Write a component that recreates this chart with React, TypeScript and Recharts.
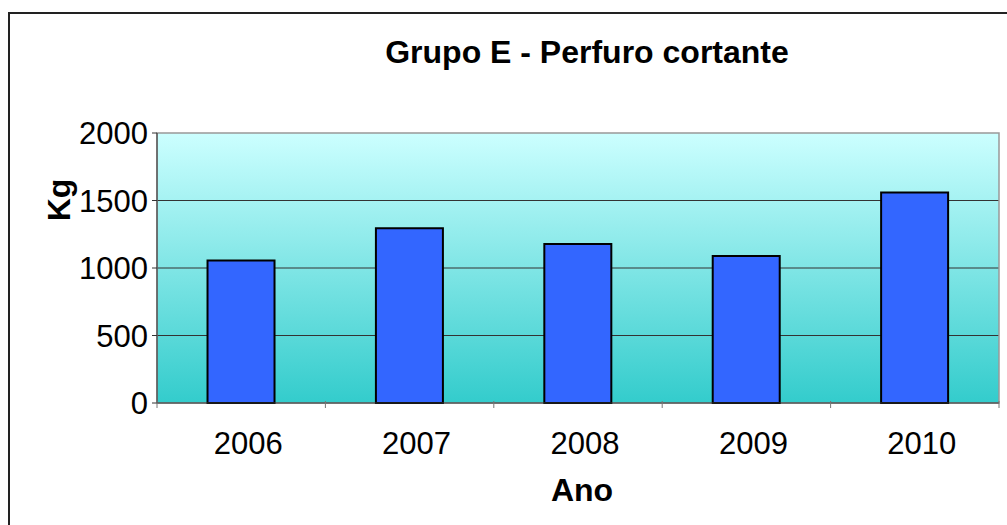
import { Bar, BarChart, CartesianGrid, ReferenceArea, XAxis, YAxis } from "recharts";

const years = ["2006", "2007", "2008", "2009", "2010"];
const kg = [1055, 1295, 1178, 1088, 1560];
const yTicks = [0, 500, 1000, 1500, 2000];

const data = years.map((ano, i) => ({ ano, kg: kg[i] }));

const FONT = "Arial, 'Liberation Sans', Helvetica, sans-serif";

function YearTick(props: any) {
  const { x, y, payload, index, visibleTicksCount } = props;
  const half = payload.offset ?? 0;
  const top = y - 10;
  return (
    <g>
      <line x1={x - half} y1={top} x2={x - half} y2={top + 7} stroke="#777" />
      {index === visibleTicksCount - 1 && (
        <line x1={x + half} y1={top} x2={x + half} y2={top + 7} stroke="#777" />
      )}
      <text x={x + 7} y={y + 43} textAnchor="middle" fontSize={31} fontFamily={FONT} fill="#000">
        {payload.value}
      </text>
    </g>
  );
}

export default function App() {
  return (
    <div style={{ position: "absolute", left: 0, top: 0, width: 1007, height: 525, overflow: "hidden", background: "#fff" }}>
      <div
        style={{
          position: "absolute",
          left: 8,
          top: 12,
          width: 1100,
          height: 600,
          borderLeft: "2px solid #222",
          borderTop: "2px solid #222",
        }}
      />
      <div style={{ position: "absolute", left: 0, top: 0 }}>
        <BarChart
          width={1007}
          height={525}
          data={data}
          margin={{ top: 133, right: 8, left: 0, bottom: 62 }}
          barCategoryGap="30%"
        >
          <defs>
            <linearGradient id="plotBg" x1="0" y1="0" x2="0" y2="1">
              <stop offset="0%" stopColor="#CCFFFF" />
              <stop offset="100%" stopColor="#33CCCC" />
            </linearGradient>
          </defs>
          <CartesianGrid
            vertical={false}
            fill="url(#plotBg)"
            fillOpacity={1}
            stroke="#333"
            horizontalValues={[500, 1000, 1500]}
          />
          <ReferenceArea y1={0} y2={2000} fill="none" stroke="#999" strokeWidth={1.5} />
          <XAxis
            dataKey="ano"
            height={60}
            axisLine={{ stroke: "#333" }}
            tickLine={false}
            tick={<YearTick />}
            interval={0}
          />
          <YAxis
            width={157}
            domain={[0, 2000]}
            ticks={yTicks}
            tickSize={5}
            tickMargin={4}
            axisLine={{ stroke: "#333" }}
            tickLine={{ stroke: "#333" }}
            tick={{ fontSize: 31, fontFamily: FONT, fill: "#000" }}
          />
          <Bar dataKey="kg" fill="#3366FF" stroke="#000" strokeWidth={2} isAnimationActive={false} />
          <text x={587} y={63} textAnchor="middle" fontSize={32} fontWeight="bold" fontFamily={FONT} fill="#000">
            Grupo E - Perfuro cortante
          </text>
          <text
            x={0}
            y={0}
            transform="translate(70 200) rotate(-90)"
            textAnchor="middle"
            fontSize={32}
            fontWeight="bold"
            fontFamily={FONT}
            fill="#000"
          >
            Kg
          </text>
          <text x={582} y={501} textAnchor="middle" fontSize={32} fontWeight="bold" fontFamily={FONT} fill="#000">
            Ano
          </text>
        </BarChart>
      </div>
    </div>
  );
}
